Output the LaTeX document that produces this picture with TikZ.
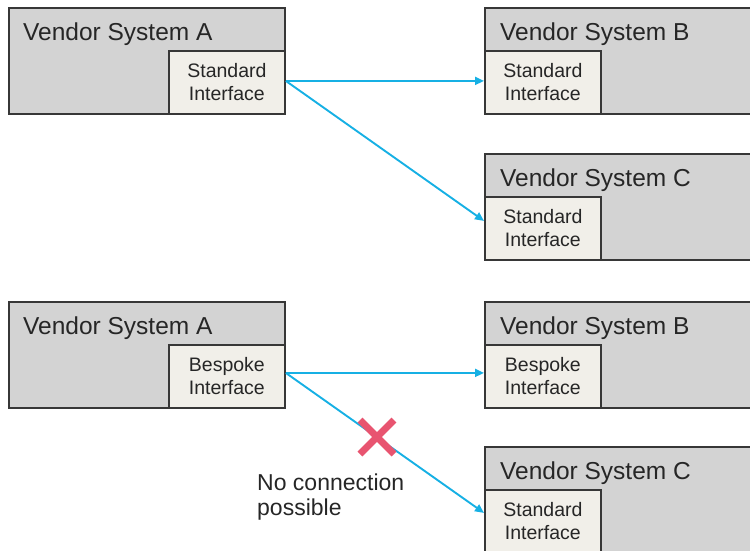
\documentclass[tikz,border=0pt]{standalone}
\usepackage{fontspec}
\setmainfont{Liberation Sans}
\usetikzlibrary{arrows.meta,positioning}
\definecolor{boxgray}{RGB}{211,211,211}
\definecolor{intfill}{RGB}{241,239,233}
\definecolor{edge}{RGB}{55,55,55}
\definecolor{arrowblue}{RGB}{22,176,228}
\definecolor{xred}{RGB}{232,84,112}
\tikzset{
  system/.style={draw=edge, line width=1.8pt, fill=boxgray, rectangle, inner sep=0pt,
    minimum height=106pt, anchor=north west},
  intf/.style={draw=edge, line width=1.8pt, fill=intfill, rectangle, inner sep=0pt,
    minimum width=116pt, minimum height=63pt, align=center,
    font=\fontsize{19.5}{23}\selectfont, text=black!85},
  title/.style={anchor=base west, inner sep=0pt, font=\fontsize{24.5}{28}\selectfont, text=black!85},
  link/.style={draw=arrowblue, line width=1.9pt, -{Triangle[length=9pt,width=8pt]}},
  cross/.style={draw=xred, line width=7pt}
}
\begin{document}
\begin{tikzpicture}[x=1pt,y=-1pt]
\useasboundingbox (0,0) rectangle (750,550);
\clip (0,0) rectangle (750,550);
% top half
\node[system, minimum width=276pt] (sa1) at (8,7) {};
\node[title] (ta1) at (23,40) {Vendor System A};
\node[intf, anchor=south east] (ia1) at (sa1.south east) {Standard\\Interface};
\node[system, minimum width=290pt] (sb1) at (484,7) {};
\node[title] (tb1) at (500,40) {Vendor System B};
\node[intf, anchor=south west] (ib1) at (sb1.south west) {Standard\\Interface};
\node[system, minimum width=290pt] (sc1) at (484,153) {};
\node[title] (tc1) at (500,186) {Vendor System C};
\node[intf, anchor=south west] (ic1) at (sc1.south west) {Standard\\Interface};
\draw[link] ([yshift=1.5pt]ia1.east) -- ([yshift=1.5pt]ib1.west);
\draw[link] ([yshift=1.5pt]ia1.east) -- ([yshift=7.5pt]ic1.west);
% bottom half
\node[system, minimum width=276pt] (sa2) at (8,301) {};
\node[title] (ta2) at (23,334) {Vendor System A};
\node[intf, anchor=south east] (ia2) at (sa2.south east) {Bespoke\\Interface};
\node[system, minimum width=290pt] (sb2) at (484,301) {};
\node[title] (tb2) at (500,334) {Vendor System B};
\node[intf, anchor=south west] (ib2) at (sb2.south west) {Bespoke\\Interface};
\node[system, minimum width=290pt] (sc2) at (484,446) {};
\node[title] (tc2) at (500,479) {Vendor System C};
\node[intf, anchor=south west] (ic2) at (sc2.south west) {Standard\\Interface};
\draw[link] ([yshift=3.5pt]ia2.east) -- ([yshift=3.5pt]ib2.west);
\draw[link] ([yshift=3.5pt]ia2.east) -- ([yshift=8.5pt]ic2.west);
\coordinate (x) at (377,437);
\draw[cross] ([shift={(-17,-17)}]x) -- ([shift={(17,17)}]x);
\draw[cross] ([shift={(-17,17)}]x) -- ([shift={(17,-17)}]x);
\node[anchor=base west, inner sep=0pt, align=left, font=\fontsize{23}{25}\selectfont, text=black!85] (nc) at (257,515) {No connection\\possible};
\end{tikzpicture}
\end{document}
